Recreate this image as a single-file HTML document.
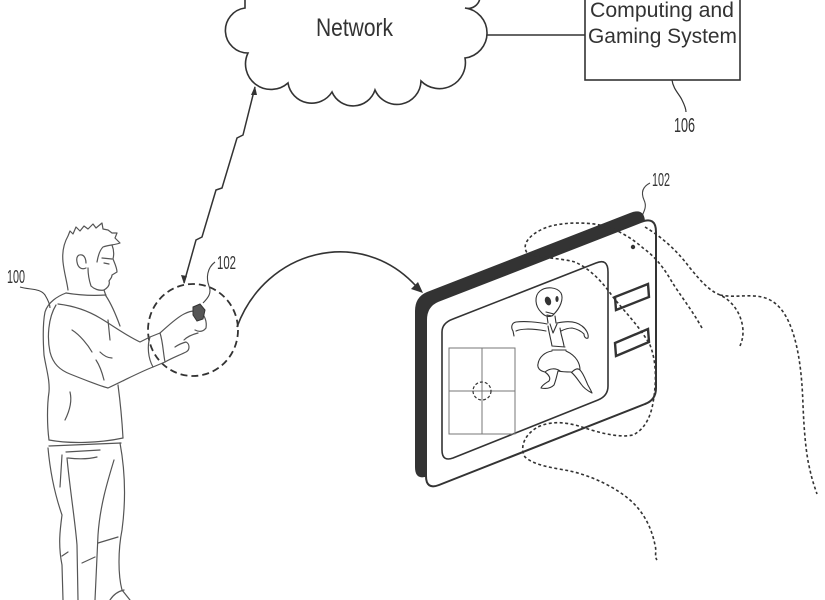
<!DOCTYPE html>
<html>
<head>
<meta charset="utf-8">
<style>
html,body{margin:0;padding:0;background:#fff;}
svg{display:block;}
text{font-family:"Liberation Sans", sans-serif;fill:#333;}
</style>
</head>
<body>
<svg width="825" height="600" viewBox="0 0 825 600" xmlns="http://www.w3.org/2000/svg">
<rect width="825" height="600" fill="#fff"/>

<!-- Cloud -->
<path d="M 245,-20 L 245,8 A 22.6 22.6 0 0 0 248,53 A 25.5 25.5 0 0 0 288,83 A 24 24 0 0 0 332,92 A 23 23 0 0 0 375,90 A 24 24 0 0 0 421,81 A 26 26 0 0 0 465,58 A 25.2 25.2 0 0 0 465,8 A 12 12 0 0 0 480,-3 L 480,-20 Z" fill="#fff" stroke="#333" stroke-width="1.6"/>
<text x="316" y="36" font-size="25" textLength="77" lengthAdjust="spacingAndGlyphs">Network</text>

<!-- Connection line -->
<line x1="487" y1="35" x2="585" y2="35" stroke="#333" stroke-width="1.5"/>

<!-- Computing box -->
<rect x="585" y="-5" width="155" height="85" fill="#fff" stroke="#333" stroke-width="1.6"/>
<text x="590" y="17" font-size="21" textLength="144" lengthAdjust="spacingAndGlyphs">Computing and</text>
<text x="588" y="43" font-size="21" textLength="149" lengthAdjust="spacingAndGlyphs">Gaming System</text>
<path d="M 672,80 C 673,89 680,95 682,100 C 684,104 686,108 686,112" fill="none" stroke="#333" stroke-width="1.2"/>
<text x="674" y="132" font-size="20" textLength="21" lengthAdjust="spacingAndGlyphs">106</text>

<!-- Lightning -->
<polyline points="255,87 243,135 237,138 222,188 216,190 202,237 196,240 184,283" fill="none" stroke="#333" stroke-width="1.5"/>
<path d="M 255,86 L 251,95 L 257,95 Z" fill="#333"/>
<path d="M 184,284 L 181,275 L 187,276 Z" fill="#333"/>

<!-- Dashed circle at hand -->
<ellipse cx="193" cy="330" rx="45" ry="46" fill="none" stroke="#333" stroke-width="1.8" stroke-dasharray="7 4"/>

<!-- Arc arrow -->
<path d="M 237,327 C 265,250 360,225 416,286" fill="none" stroke="#333" stroke-width="1.6"/>
<path d="M 423,293 L 411,289 L 418,282 Z" fill="#333"/>

<!-- Labels -->
<text x="7" y="283" font-size="18" textLength="18" lengthAdjust="spacingAndGlyphs">100</text>
<path d="M 20,287 C 30,290 40,288 45,295 C 48,300 50,305 50,308" fill="none" stroke="#444" stroke-width="1.1"/>
<text x="217" y="269" font-size="18" textLength="19" lengthAdjust="spacingAndGlyphs">102</text>
<path d="M 215,262 C 207,268 206,278 209,286 C 212,293 208,298 203,303" fill="none" stroke="#444" stroke-width="1.1"/>
<text x="652" y="186" font-size="18" textLength="18" lengthAdjust="spacingAndGlyphs">102</text>
<path d="M 650,183 C 642,187 641,193 644,200 C 648,208 642,214 640,221" fill="none" stroke="#444" stroke-width="1.1"/>

<!-- Person -->
<g fill="none" stroke="#555" stroke-width="1.2" stroke-linejoin="round" stroke-linecap="round">
  <path d="M 63,262 C 62,252 64,243 68,236 L 70,231 L 73,234 L 76,227 L 80,231 L 84,226 L 88,229 L 93,224 L 96,228 L 102,223 L 103,229 L 108,230 L 112,233 L 117,233 L 115,238 L 120,243 C 115,245 108,245 103,247 C 100,250 98,256 97,262"/>
  <path d="M 112,245 C 114,250 114,255 113,259 C 115,264 117,268 117,272 L 112,275 C 112,278 110,279 109,281 C 110,284 109,287 104,290 C 99,291 94,289 91,286 C 89,280 88,273 88,268"/>
  <path d="M 102,258 L 112,259"/>
  <path d="M 104,263 L 109,264"/>
  <path d="M 86,268 C 82,270 78,268 77,262 C 76,257 78,254 82,255 C 85,256 86,260 86,263"/>
  <path d="M 63,262 C 64,272 67,282 68,290"/>
  <path d="M 104,290 L 106,296"/>
  <path d="M 66,293 C 78,295 90,296 106,295"/>
  <path d="M 66,293 C 58,296 48,302 45,312 C 43,322 43,340 44,355 C 46,368 50,380 49,392 C 47,405 47,425 49,440"/>
  <path d="M 49,440 C 70,444 100,443 123,438"/>
  <path d="M 118,385 C 120,400 122,420 123,438"/>
  <path d="M 106,296 C 112,305 116,315 120,326"/>
  <path d="M 65,420 C 70,410 72,400 70,392"/>
  <path d="M 56,305 C 48,318 47,338 50,352 C 53,364 60,370 70,374 C 85,380 100,386 108,388 C 125,380 140,372 153,367"/>
  <path d="M 58,304 C 75,306 90,312 100,318 C 112,325 125,335 140,342 L 150,337"/>
  <path d="M 72,330 C 80,335 88,345 92,352"/>
  <path d="M 96,360 C 100,366 102,372 104,380"/>
  <path d="M 100,352 C 104,356 108,358 112,358"/>
  <path d="M 108,320 L 110,340"/>
  <path d="M 150,337 C 147,346 148,358 153,367 M 150,337 L 160,333 C 163,342 163,352 165,362 L 153,367"/>
  <path d="M 160,333 C 168,326 176,318 184,314 C 190,311 196,310 200,312 C 205,315 207,322 206,328 C 203,332 199,332 195,330"/>
  <path d="M 165,362 C 172,358 180,355 186,352 C 190,350 190,344 186,342 C 182,343 178,345 175,347"/>
  <path d="M 184,340 C 188,336 194,334 198,333"/>
  <path d="M 49,446 L 121,443"/>
  <path d="M 66,452 L 100,450 M 68,458 Q 85,460 97,457 M 62,455 L 60,487"/>
  <path d="M 48,448 C 50,470 55,495 62,515 C 60,530 58,545 62,565 L 63,600"/>
  <path d="M 67,458 C 70,490 75,520 77,545 L 78,600"/>
  <path d="M 114,460 C 108,480 100,505 98,535 L 95,600"/>
  <path d="M 120,443 C 125,470 126,500 122,530 C 118,550 118,575 122,590 L 130,600"/>
  <path d="M 98,543 L 118,537 M 82,563 L 95,557 M 62,556 L 68,552 M 110,600 Q 115,592 124,590"/>
</g>
<path d="M 193,307 L 200,304 L 205,310 L 203,319 L 197,321 L 193,315 Z" fill="#555" stroke="#333" stroke-width="1"/>

<!-- Device band -->
<path transform="translate(-11,-9)" d="M 426,320 L 426,476 Q 426,490 439,485 L 645,404 Q 656,400 656,388 L 656,232 Q 656,216 641,222 L 438,301 Q 426,306 426,320 Z" fill="#333"/>
<!-- Device face -->
<path d="M 426,320 L 426,476 Q 426,490 439,485 L 645,404 Q 656,400 656,388 L 656,232 Q 656,216 641,222 L 438,301 Q 426,306 426,320 Z" fill="#fff" stroke="#333" stroke-width="2"/>
<!-- Screen -->
<path d="M 442,332 L 442,450 Q 442,462 453,458 L 598,400 Q 608,396 608,386 L 608,272 Q 608,258 596,263 L 453,319 Q 442,323 442,332 Z" fill="#fff" stroke="#333" stroke-width="1.6"/>
<!-- Grid -->
<rect x="449" y="348" width="66" height="86" fill="none" stroke="#777" stroke-width="1"/>
<line x1="482" y1="348" x2="482" y2="434" stroke="#777" stroke-width="1"/>
<line x1="449" y1="391" x2="515" y2="391" stroke="#777" stroke-width="1"/>
<circle cx="482" cy="391" r="9" fill="none" stroke="#333" stroke-width="1.2" stroke-dasharray="3 2"/>
<!-- Buttons -->
<path d="M 615,297 L 648,284 L 649,297 L 616,310 Z" fill="#fff" stroke="#333" stroke-width="2.4"/>
<path d="M 615,343 L 648,329 L 649,342 L 616,356 Z" fill="#fff" stroke="#333" stroke-width="2.4"/>
<circle cx="633" cy="247" r="2.2" fill="#333"/>

<!-- Alien -->
<g fill="none" stroke="#333" stroke-width="1.1" stroke-linejoin="round" stroke-linecap="round">
  <path d="M 541,312 C 535,306 534,296 540,291 C 546,286 557,287 561,293 C 564,299 560,308 554,314 C 551,318 545,317 541,312 Z"/>
  <path d="M 546,312 L 554,314 M 547,315 L 552,316"/>
  <path d="M 547,316 L 548,323 M 555,316 L 556,323"/>
  <path d="M 547,324 C 538,322 525,321 516,322 C 511,323 511,328 513,331 L 514,336 M 516,331 C 520,329 530,328 546,331"/>
  <path d="M 557,323 C 566,321 576,321 582,326 C 586,329 589,334 588,338 C 586,339 584,337 584,334 C 581,331 577,329 572,328 C 567,328 563,330 561,331"/>
  <path d="M 548,326 C 549,333 551,340 552,346 M 560,328 C 561,335 563,340 564,346 M 552,346 L 565,347 M 552,350 L 566,350"/>
  <path d="M 550,324 L 553,333 L 557,324"/>
  <path d="M 552,351 C 545,352 539,357 538,364 C 537,368 540,371 545,372 C 549,375 551,378 549,381 C 546,383 542,385 541,388 C 546,389 551,388 554,385 C 556,380 557,375 558,371 C 563,372 567,372 571,372 C 575,375 578,380 581,384 C 583,387 586,390 592,393 C 590,388 588,386 587,383 C 585,378 583,373 580,370 C 580,364 577,356 566,351"/>
  <path d="M 545,372 C 550,368 556,368 560,371 M 572,372 C 575,369 578,368 580,370"/>
</g>
<ellipse cx="548" cy="301" rx="3" ry="4.5" fill="#333" transform="rotate(-20 548 301)"/>
<ellipse cx="557" cy="299" rx="1.6" ry="3" fill="#333"/>

<!-- Dashed hand outlines -->
<g fill="none" stroke="#333" stroke-width="1.6" stroke-dasharray="3 2.5" stroke-linecap="butt">
  <path d="M 702,328 C 692,310 680,295 672,282 C 665,270 657,258 643,248 C 632,238 615,228 600,225 C 585,222 560,222 545,228 C 530,234 520,245 528,254 C 540,258 560,258 575,262 C 592,270 603,283 613,297 C 625,312 640,327 650,345 C 656,360 657,380 653,403 C 650,420 643,430 633,435 C 620,438 600,433 585,428 C 570,423 555,420 540,426 C 525,433 519,447 525,457 C 535,466 555,468 570,471 C 592,476 615,487 630,500 C 645,513 652,530 655,545 C 657,552 654,556 657,560"/>
  <path d="M 645,227 C 660,236 675,248 690,268 C 700,280 708,290 720,295 C 735,302 743,318 743,332 C 743,337 742,341 740,346"/>
  <path d="M 720,295 C 735,298 748,294 762,297 C 775,300 785,310 792,330 C 799,350 802,375 803,405 C 804,430 806,455 810,470 C 812,480 815,488 817,494"/>
</g>
</svg>
</body>
</html>
